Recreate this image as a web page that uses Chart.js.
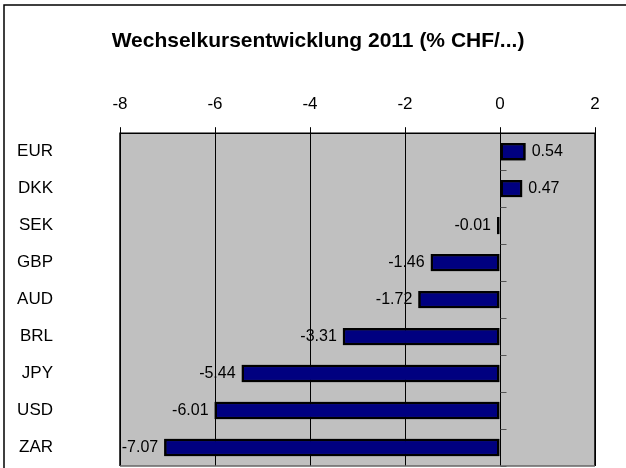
<!DOCTYPE html>
<html>
<head>
<meta charset="utf-8">
<script src="https://cdn.jsdelivr.net/npm/chart.js@4/dist/chart.umd.min.js"></script>
<style>
html,body{margin:0;padding:0;background:#fff;}
#wrap{position:relative;width:626px;height:468px;}
canvas{display:block;}
</style>
</head>
<body>
<div id="wrap"><canvas id="c" width="626" height="468"></canvas></div>
<script>
const categories = ["EUR","DKK","SEK","GBP","AUD","BRL","JPY","USD","ZAR"];
const values = [0.54, 0.47, -0.01, -1.46, -1.72, -3.31, -5.44, -6.01, -7.07];
const titleText = "Wechselkursentwicklung 2011 (% CHF/...)";
const xMin = -8, xMax = 2, xStep = 2;

const FONT = "'Liberation Sans', Arial, sans-serif";

const framePlugin = {
  id: 'frame',
  beforeDraw(chart) {
    const ctx = chart.ctx;
    ctx.save();
    ctx.fillStyle = '#fff';
    ctx.fillRect(0, 0, chart.width, chart.height);
    ctx.strokeStyle = '#000';
    ctx.lineWidth = 1.5;
    ctx.beginPath();
    ctx.moveTo(4, chart.height + 2);
    ctx.lineTo(4, 5);
    ctx.lineTo(chart.width + 2, 5);
    ctx.stroke();
    const a = chart.chartArea;
    ctx.fillStyle = '#C0C0C0';
    ctx.fillRect(a.left, a.top, a.right - a.left, a.bottom - a.top);
    ctx.restore();
  },
  afterDraw(chart) {
    const ctx = chart.ctx;
    const a = chart.chartArea;
    ctx.save();
    ctx.strokeStyle = '#000';
    ctx.lineWidth = 1.5;
    ctx.beginPath();
    ctx.moveTo(a.left, a.bottom);
    ctx.lineTo(a.left, a.top);
    ctx.lineTo(a.right, a.top);
    ctx.lineTo(a.right, a.bottom);
    ctx.stroke();
    ctx.strokeStyle = '#666';
    ctx.lineWidth = 1.5;
    ctx.beginPath();
    ctx.moveTo(a.left, a.bottom);
    ctx.lineTo(a.right, a.bottom);
    ctx.stroke();
    ctx.restore();
  },
  afterDatasetsDraw(chart) {
    const ctx = chart.ctx;
    const xs = chart.scales.x, ys = chart.scales.y;
    ctx.save();
    const x0 = Math.round(xs.getPixelForValue(0)) + 0.5;
    ctx.strokeStyle = '#000';
    ctx.lineWidth = 1;
    ctx.beginPath();
    ctx.moveTo(x0, chart.chartArea.top);
    ctx.lineTo(x0, chart.chartArea.bottom);
    ctx.stroke();
    ctx.strokeStyle = '#555';
    ctx.beginPath();
    for (let i = 0; i <= categories.length; i++) {
      const y = Math.round(ys.getPixelForValue(i - 0.5)) + 0.5;
      ctx.moveTo(x0, y);
      ctx.lineTo(x0 + 6, y);
    }
    ctx.stroke();
    chart.getDatasetMeta(0).data.forEach(el => el.draw(ctx));
    ctx.fillStyle = '#000';
    ctx.font = "16px " + FONT;
    ctx.textBaseline = 'middle';
    const meta = chart.getDatasetMeta(0);
    meta.data.forEach((el, i) => {
      const v = values[i];
      const txt = v.toFixed(2);
      if (v >= 0) {
        ctx.textAlign = 'left';
        ctx.fillText(txt, el.x + 6, el.y);
      } else {
        ctx.textAlign = 'right';
        ctx.fillText(txt, el.x - 6, el.y);
      }
    });
    ctx.restore();
  }
};

new Chart(document.getElementById('c'), {
  type: 'bar',
  data: {
    labels: categories,
    datasets: [{
      data: values,
      backgroundColor: '#000080',
      borderColor: '#000000',
      borderWidth: 2.5,
      borderSkipped: false,
      minBarLength: 3,
      barPercentage: 0.47,
      categoryPercentage: 1.0
    }]
  },
  options: {
    indexAxis: 'y',
    responsive: false,
    animation: false,
    devicePixelRatio: 1,
    layout: { padding: { left: 10, right: 0, top: 0, bottom: 2 } },
    plugins: {
      legend: { display: false },
      tooltip: { enabled: false },
      title: {
        display: true,
        text: titleText,
        color: '#000',
        font: { family: FONT, size: 21, weight: 'bold', lineHeight: 1.2 },
        padding: { top: 29, bottom: 39 }
      }
    },
    scales: {
      x: {
        position: 'top',
        min: xMin,
        max: xMax,
        ticks: {
          stepSize: xStep,
          color: '#000',
          font: { family: FONT, size: 17 },
          padding: 13,
          maxRotation: 0
        },
        grid: {
          color: '#000',
          lineWidth: 1,
          drawTicks: true,
          tickLength: 6,
          tickColor: '#000'
        },
        border: { display: true, color: '#000', width: 1 },
        afterFit(axis) { axis.height = 40; axis.paddingLeft = 0; axis.paddingRight = 0; }
      },
      y: {
        position: 'left',
        ticks: {
          color: '#000',
          font: { family: FONT, size: 17 },
          padding: 67
        },
        grid: { display: false, drawTicks: false },
        border: { display: false },
        afterFit(axis) { axis.width = 110; axis.paddingTop = 0; axis.paddingBottom = 0; }
      },
      y2: {
        position: 'right',
        type: 'category',
        labels: categories,
        ticks: { display: false },
        grid: { display: false, drawTicks: false },
        border: { display: false },
        afterFit(axis) { axis.width = 31; axis.paddingTop = 0; axis.paddingBottom = 0; }
      }
    }
  },
  plugins: [framePlugin]
});
</script>
</body>
</html>
